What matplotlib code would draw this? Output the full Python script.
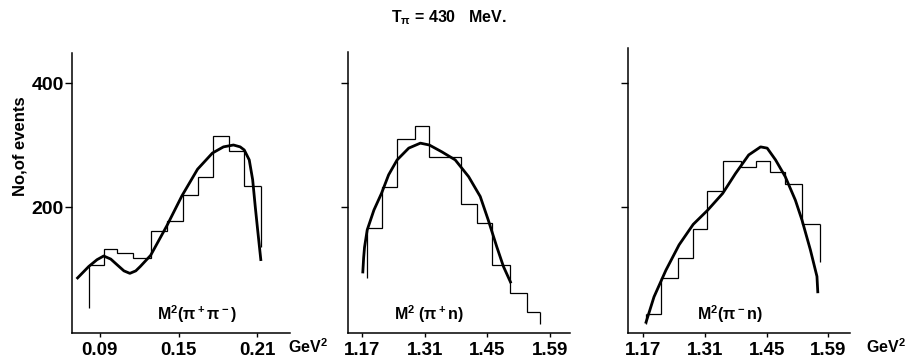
import matplotlib
matplotlib.use('Agg')
import matplotlib.pyplot as plt

plt.rcParams['font.family'] = ['Liberation Sans', 'DejaVu Sans']
plt.rcParams['font.weight'] = 'bold'
plt.rcParams['axes.labelweight'] = 'bold'
plt.rcParams['mathtext.fontset'] = 'custom'
plt.rcParams['mathtext.rm'] = 'Liberation Sans:bold'
plt.rcParams['mathtext.it'] = 'Liberation Sans:bold'
plt.rcParams['mathtext.bf'] = 'Liberation Sans:bold'

# M^2(pi+ pi-)
edges1 = [0.0822, 0.0930, 0.1034, 0.1154, 0.1288, 0.1412, 0.1536, 0.1650, 0.1761, 0.1887, 0.1995, 0.2128]
counts1 = [106, 132, 126, 118, 161, 177, 220, 249, 315, 291, 234]
ends1 = [37, 136]
fit1_x = [0.0725, 0.0817, 0.0880, 0.0931, 0.0985, 0.1032, 0.1085, 0.1130, 0.1175, 0.1209, 0.1288, 0.1350,
          0.1412, 0.1526, 0.1645, 0.1758, 0.1842, 0.1918, 0.1969, 0.2000, 0.2038, 0.2064, 0.2084, 0.2102, 0.2127]
fit1_y = [84, 104, 115, 121, 116, 107, 97, 93, 97, 104, 122, 146,
          170, 218, 261, 287, 297, 300, 297, 292, 276, 244, 200, 163, 113]

# M^2(pi+ n)
edges2 = [1.181, 1.213, 1.248, 1.289, 1.320, 1.356, 1.392, 1.427, 1.461, 1.501, 1.538, 1.568]
counts2 = [166, 233, 309, 331, 280, 280, 205, 174, 106, 61, 31]
ends2 = [85, 12]
fit2_x = [1.171, 1.173, 1.175, 1.181, 1.196, 1.213, 1.229, 1.248, 1.274, 1.300, 1.320, 1.348,
          1.378, 1.408, 1.434, 1.452, 1.471, 1.486, 1.503]
fit2_y = [93, 118, 135, 163, 195, 222, 252, 276, 295, 303, 300, 289,
          276, 249, 217, 179, 136, 104, 77]

# M^2(pi- n)
edges3 = [1.175, 1.211, 1.249, 1.282, 1.315, 1.350, 1.392, 1.426, 1.458, 1.492, 1.530, 1.570]
counts3 = [27, 86, 118, 165, 226, 275, 265, 275, 257, 237, 172]
ends3 = [12, 112]
fit3_x = [1.175, 1.194, 1.221, 1.251, 1.283, 1.316, 1.350, 1.379, 1.409, 1.436, 1.451, 1.470,
          1.492, 1.515, 1.530, 1.549, 1.564, 1.566]
fit3_y = [12, 55, 98, 139, 172, 195, 222, 254, 284, 297, 295, 276,
          249, 211, 179, 131, 88, 61]

ticks1 = [0.09, 0.15, 0.21]
ticklabels1 = ['0.09', '0.15', '0.21']
ticks23 = [1.17, 1.31, 1.45, 1.59]
ticklabels23 = ['1.17', '1.31', '1.45', '1.59']

W, H = 909, 362
fig = plt.figure(figsize=(W / 100, H / 100), dpi=100)


def panel(px, edges, counts, ends, fx, fy, xlim, ylim, ticks, labels, name, name_x, ylab=False):
    l, r, t, b = px
    ax = fig.add_axes([l / W, 1 - b / H, (r - l) / W, (b - t) / H])
    ax.stairs(counts, edges, baseline=None, color='k', lw=0.9)
    ax.vlines([edges[0], edges[-1]], ends, [counts[0], counts[-1]], color='k', lw=0.9)
    ax.plot(fx, fy, color='k', lw=2.0, solid_capstyle='butt')
    ax.set_xlim(xlim)
    ax.set_ylim(ylim)
    for s in ['top', 'right']:
        ax.spines[s].set_visible(False)
    for s in ['left', 'bottom']:
        ax.spines[s].set_linewidth(1.1)
    ax.set_xticks(ticks)
    ax.set_xticklabels(labels)
    ax.set_yticks([200, 400])
    if ylab:
        ax.set_yticklabels(['200', '400'])
        ax.set_ylabel('No,of events', fontsize=12, fontweight='bold')
        ax.yaxis.set_label_coords(-0.205, 0.667)
    else:
        ax.set_yticklabels([])
    ax.tick_params(axis='x', direction='out', length=3, width=1, labelsize=13.5, pad=4)
    ax.tick_params(axis='y', direction='out', length=5, width=1, labelsize=14, pad=1)
    ax.text(name_x, 27, name, fontsize=11.5, ha='center', va='center')
    return ax


panel((72, 290, 53, 332.5), edges1, counts1, ends1, fit1_x, fit1_y,
      (0.069, 0.2348), (-2.4, 448.4), ticks1, ticklabels1,
      r'M$^2$($\pi^+\pi^-$)', 0.1642, ylab=True)
panel((348, 570, 52, 332.5), edges2, counts2, ends2, fit2_x, fit2_y,
      (1.138, 1.635), (-2.4, 450), ticks23, ticklabels23,
      r'M$^2$ ($\pi^+$n)', 1.320)
panel((628, 850, 48, 332.5), edges3, counts3, ends3, fit3_x, fit3_y,
      (1.135, 1.639), (-2.4, 456.5), ticks23, ticklabels23,
      r'M$^2$($\pi^-$n)', 1.366)

fig.text(449 / W, 1 - 18 / H, r'T$_\pi$ = 430   MeV.', fontsize=11.5, ha='center', va='center')
fig.text(288 / W, 1 - 347 / H, r'GeV$^2$', fontsize=11.5, ha='left', va='center')
fig.text(866 / W, 1 - 347 / H, r'GeV$^2$', fontsize=11.5, ha='left', va='center')

fig.savefig('out.png', dpi=100)
